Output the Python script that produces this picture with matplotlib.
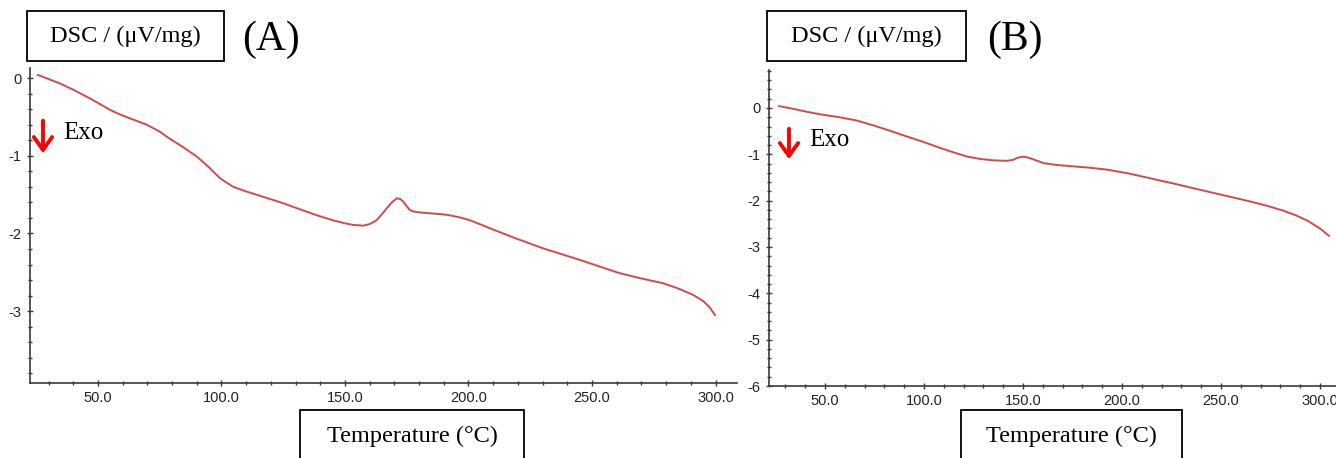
import matplotlib.pyplot as plt
from matplotlib.patches import Rectangle, FancyArrowPatch
from matplotlib.ticker import MultipleLocator, FormatStrFormatter

plt.rcParams['axes.unicode_minus'] = False

# panel A
temp_a = [25.7, 34.6, 40.0, 45.4, 50.0, 54.9, 59.0, 63.0, 69.7, 75.0, 79.0, 84.0, 90.0,
          95.0, 99.4, 104.7, 110.0, 117.0, 124.9, 131.8, 138.0, 145.0, 150.0, 153.3,
          157.3, 160.0, 162.8, 164.8, 166.8, 169.0, 170.9, 172.3, 173.6, 175.0, 176.3,
          178.0, 180.4, 186.0, 191.2, 196.0, 200.6, 210.0, 218.0, 230.0, 245.0, 261.0,
          270.0, 278.7, 285.0, 290.9, 295.0, 297.6, 299.8]
dsc_a = [0.04, -0.07, -0.15, -0.24, -0.32, -0.41, -0.47, -0.52, -0.60, -0.69, -0.78, -0.88,
         -1.01, -1.15, -1.29, -1.40, -1.46, -1.53, -1.61, -1.69, -1.76, -1.83, -1.87, -1.89,
         -1.90, -1.88, -1.83, -1.76, -1.68, -1.60, -1.55, -1.555, -1.59, -1.65, -1.70,
         -1.72, -1.73, -1.745, -1.76, -1.79, -1.83, -1.95, -2.05, -2.19, -2.34, -2.51,
         -2.58, -2.64, -2.71, -2.79, -2.87, -2.95, -3.05]

# panel B
temp_b = [26.8, 33.0, 40.6, 48.0, 57.4, 65.9, 74.0, 82.7, 91.0, 99.5, 108.0, 116.5, 122.0,
          128.3, 135.0, 141.8, 145.0, 147.5, 150.0, 152.5, 155.3, 160.4, 167.0, 175.5,
          184.0, 192.4, 203.0, 214.6, 227.0, 239.9, 252.0, 265.0, 274.0, 281.8, 288.0,
          293.6, 300.0, 304.6]
dsc_b = [0.04, -0.01, -0.08, -0.14, -0.20, -0.27, -0.37, -0.49, -0.61, -0.73, -0.86, -0.98,
         -1.05, -1.10, -1.13, -1.14, -1.12, -1.07, -1.05, -1.07, -1.11, -1.19, -1.23, -1.26,
         -1.29, -1.33, -1.41, -1.52, -1.64, -1.77, -1.89, -2.02, -2.12, -2.22, -2.32,
         -2.43, -2.60, -2.76]

W, H = 1336, 458
line_col = '#d24b4b'
axis_col = '#3a3a3a'
serif = 'Liberation Serif'


def fx(px):
    return px / W


def fy(py):
    return 1 - py / H


fig = plt.figure(figsize=(W / 100, H / 100), dpi=100)

ax1 = fig.add_axes([fx(30), fy(383), fx(737) - fx(30), fy(68) - fy(383)])
ax1.plot(temp_a, dsc_a, color=line_col, lw=1.4)
ax1.set_xlim(22.5, 308.7)
ax1.set_ylim(-3.925, 0.129)

ax2 = fig.add_axes([fx(769), fy(386), fx(1336) - fx(769), fy(70) - fy(386)])
ax2.plot(temp_b, dsc_b, color=line_col, lw=1.4)
ax2.set_xlim(21.7, 308.1)
ax2.set_ylim(-6, 0.82)

for ax in (ax1, ax2):
    for s in ('top', 'right'):
        ax.spines[s].set_visible(False)
    for s in ('left', 'bottom'):
        ax.spines[s].set_color(axis_col)
        ax.spines[s].set_linewidth(1.2)
    ax.yaxis.set_major_locator(MultipleLocator(1))
    ax.xaxis.set_major_locator(MultipleLocator(50))
    ax.xaxis.set_minor_locator(MultipleLocator(10))
    ax.yaxis.set_minor_locator(MultipleLocator(0.2))
    ax.xaxis.set_major_formatter(FormatStrFormatter('%.1f'))
    ax.tick_params(which='both', direction='inout', colors=axis_col, labelsize=10.5,
                   labelcolor='#222222')
    ax.tick_params(which='major', length=5, width=1)
    ax.tick_params(which='minor', length=3, width=1)
    for lab in ax.get_xticklabels() + ax.get_yticklabels():
        lab.set_family('Liberation Sans')


def box(x0, y0, x1, y1, txt, size):
    fig.patches.append(Rectangle((fx(x0), fy(y1)), fx(x1) - fx(x0), fy(y0) - fy(y1),
                                 transform=fig.transFigure, fill=False,
                                 edgecolor='black', lw=1.3))
    fig.text(fx((x0 + x1) / 2), fy((y0 + y1) / 2), txt, ha='center', va='center',
             family=serif, fontsize=size)


box(27, 11, 224, 61, 'DSC / (μV/mg)', 17.5)
box(767, 11, 966, 61, 'DSC / (μV/mg)', 17.5)
box(300, 410, 524, 462, 'Temperature (°C)', 17.5)
box(961, 410, 1182, 462, 'Temperature (°C)', 17.5)

fig.text(fx(271), fy(40), '(A)', ha='center', va='center', family=serif, fontsize=30)
fig.text(fx(1015), fy(40), '(B)', ha='center', va='center', family=serif, fontsize=30)

for ax_x, top, tip, tx, ty in ((43, 118, 156, 63, 133), (789, 126, 162, 809, 140)):
    fig.patches.append(FancyArrowPatch(
        (fx(ax_x), fy(top)), (fx(ax_x), fy(tip)), transform=fig.transFigure,
        arrowstyle='->,head_length=0.42,head_width=0.3', mutation_scale=22,
        lw=2.8, color='red'))
    fig.text(fx(tx), fy(ty), 'Exo', ha='left', va='center', family=serif, fontsize=18)

fig.savefig('out.png', dpi=100)
